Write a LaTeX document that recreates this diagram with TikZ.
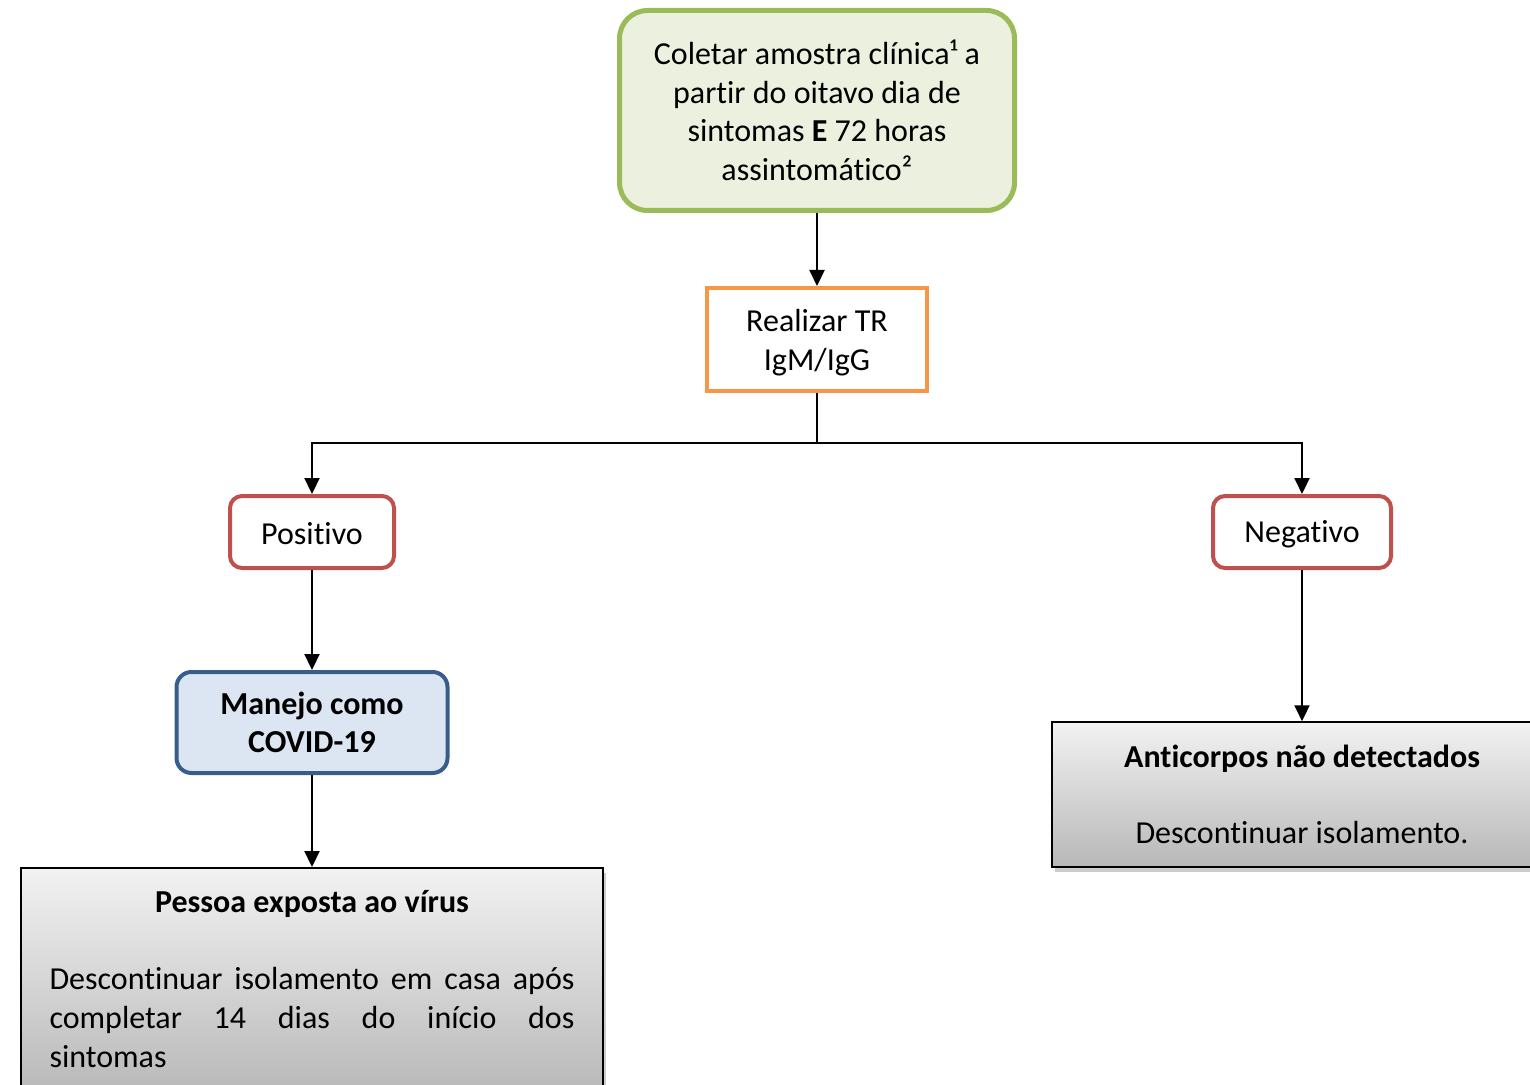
\documentclass[tikz,border=0pt]{standalone}
\usepackage{fontspec}
\setmainfont{Carlito}[RawFeature={-liga;-clig;-dlig;-calt}]
\usetikzlibrary{arrows.meta,shadows}

\definecolor{linegreen}{HTML}{9BBB59}
\definecolor{fillgreen}{HTML}{EBF1DE}
\definecolor{lineorange}{HTML}{F79646}
\definecolor{linered}{HTML}{C0504D}
\definecolor{lineblue}{HTML}{385D8A}
\definecolor{fillblue}{HTML}{DCE6F2}

\begin{document}
\begin{tikzpicture}[x=0.5pt,y=-0.5pt]
        \fontsize{16pt}{19.3pt}\selectfont
        \tikzset{
    start/.style={draw=linegreen, fill=fillgreen, line width=2.5pt, rounded corners=14pt, align=center, minimum width=197.5pt, minimum height=100pt},
    test/.style={draw=lineorange, fill=white, line width=2pt, align=center, minimum width=110pt, minimum height=51.5pt},
    result/.style={draw=linered, fill=white, line width=2pt, rounded corners=6pt, minimum height=36pt},
    manage/.style={draw=lineblue, fill=fillblue, line width=2pt, rounded corners=7.5pt, align=center, minimum width=135.5pt, minimum height=50.5pt, font=\bfseries},
    outcome/.style={draw=black, line width=0.75pt, top color=black!5, bottom color=black!28, drop shadow={shadow xshift=1.5pt, shadow yshift=-2.5pt, opacity=0.4}},
    flow/.style={-{Triangle[length=8pt,width=7.5pt]}, line width=1.1pt},
        }
        \useasboundingbox (0,0) rectangle (1530,1085);
        \clip (0,0) rectangle (1530,1085);

        % Steps from top to bottom.
        \node[start] (coletar) at (817,110.5)
          {Coletar amostra clínica¹ a\\partir do oitavo dia de\\sintomas \textbf{E} 72 horas\\assintomático²};
        \node[test] (realizar) at (817,339.5)
          {\raisebox{-1.5pt}[\height][\depth]{Realizar TR}\\\raisebox{-1.5pt}[\height][\depth]{IgM/IgG}};
        \coordinate (split) at (817,443); % branch point

        % The two results.
        \node[result, minimum width=82pt] (positivo) at (312,532) {\raisebox{-1pt}[\height][\depth]{Positivo}};
        \node[result, minimum width=89pt] (negativo) at (1302,532) {\raisebox{-1pt}[\height][\depth]{Negativo}};
        \node[manage] (manejo) at (312,722.5) {Manejo como\\COVID-19};

        % Grey outcome boxes, cut by the page edge.
        \node[outcome, anchor=north, text width=262.5pt, inner xsep=14.25pt, inner ysep=9pt, align=justify] (pessoa) at (312,867)
          {\centerline{\strut\textbf{Pessoa exposta ao vírus}}\par\vspace{19.3pt}%
           \noindent Descontinuar isolamento em casa após\linebreak completar 14 dias do início dos\linebreak sintomas\strut\par\vspace{30pt}};
        \node[outcome, align=center, minimum width=250pt, minimum height=72.5pt] (anticorpos) at (1302,794.5)
          {\textbf{Anticorpos não detectados}\\[19pt]Descontinuar isolamento.};

        % Connectors.
        \draw[flow] (coletar) -- (realizar);
        \draw[line width=1.1pt] (realizar) -- (split);
        \draw[flow] (split) -| (positivo);
        \draw[flow] (split) -| (negativo);
        \draw[flow] (positivo) -- (manejo);
        \draw[flow] (manejo) -- (pessoa);
        \draw[flow] (negativo) -- (anticorpos);
      \end{tikzpicture}
\end{document}
